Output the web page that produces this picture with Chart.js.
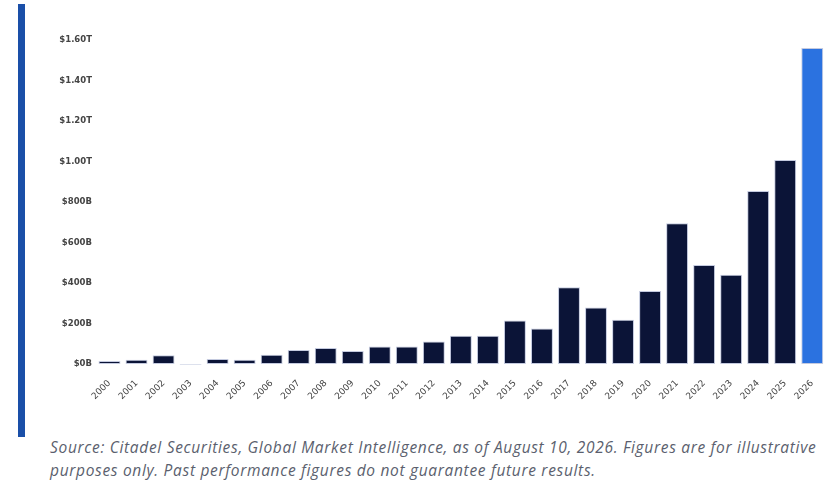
<!DOCTYPE html>
<html>
<head>
<meta charset="utf-8">
<script src="https://cdn.jsdelivr.net/npm/chart.js@4.4.1/dist/chart.umd.min.js"></script>
<style>
  html, body { margin: 0; padding: 0; background: #fff; }
  #wrap { position: relative; width: 834px; height: 482px; overflow: hidden; }
  #rule { position: absolute; left: 18px; top: 4px; width: 7px; height: 433px; background: #1a4fa8; }
  #box { position: absolute; left: 0; top: 0; width: 834px; height: 435px; }
  #note {
    position: absolute; left: 50px; top: 436px; white-space: nowrap;
    font-family: "Open Sans", "Noto Sans", sans-serif; font-style: italic;
    font-size: 15.5px; letter-spacing: 0.68px; line-height: 23px; color: #5b5f6e;
  }
</style>
</head>
<body>
<div id="wrap">
  <div id="rule"></div>
  <div id="box"><canvas id="chart"></canvas></div>
  <div id="note">Source: Citadel Securities, Global Market Intelligence, as of August 10, 2026. Figures are for illustrative<br>purposes only. Past performance figures do not guarantee future results.</div>
</div>
<script>
// annees et valeurs (en milliards de dollars)
const years = ['2000', '2001', '2002', '2003', '2004', '2005', '2006', '2007', '2008', '2009',
  '2010', '2011', '2012', '2013', '2014', '2015', '2016', '2017', '2018', '2019',
  '2020', '2021', '2022', '2023', '2024', '2025', '2026'];
const valuesB = [15, 21, 43, -4, 25, 21, 46, 69, 79, 64,
  86, 86, 111, 139, 139, 215, 175, 379, 279, 218,
  360, 695, 489, 441, 854, 1007, 1561];
const yTicks = [0, 200, 400, 600, 800, 1000, 1200, 1400, 1600];

const dark = '#0b1437';
const highlight = '#2b72e0';
const barColors = years.map((y, i) => i === years.length - 1 ? highlight : dark);

function fmtTick(v) {
  if (v >= 1000) return '$' + (v / 1000).toFixed(2) + 'T';
  return '$' + v + 'B';
}

new Chart(document.getElementById('chart'), {
  type: 'bar',
  data: {
    labels: years,
    datasets: [{
      data: valuesB,
      backgroundColor: barColors,
      borderColor: 'rgba(190,196,220,0.9)',
      borderWidth: 1,
      borderSkipped: false,
      categoryPercentage: 1,
      barPercentage: 0.81,
      clip: false
    }]
  },
  options: {
    responsive: true,
    maintainAspectRatio: false,
    animation: false,
    layout: { padding: { top: 40, right: 7, bottom: 0, left: 0 } },
    plugins: { legend: { display: false }, tooltip: { enabled: false } },
    scales: {
      x: {
        grid: { display: false, drawTicks: false },
        border: { display: false },
        ticks: {
          color: '#444',
          font: { family: 'DejaVu Sans', size: 9 },
          maxRotation: 45,
          minRotation: 45,
          autoSkip: false,
          padding: 14
        },
        afterFit: (s) => { s.height = 71; }
      },
      y: {
        min: 0,
        max: 1600,
        grid: { display: false, drawTicks: false },
        border: { display: false },
        afterBuildTicks: (s) => { s.ticks = yTicks.map(v => ({ value: v })); },
        ticks: {
          color: '#444',
          font: { family: 'DejaVu Sans', size: 8.5, weight: 'bold' },
          padding: 4,
          callback: fmtTick
        },
        afterFit: (s) => { s.width = 96; }
      }
    }
  }
});
</script>
</body>
</html>
